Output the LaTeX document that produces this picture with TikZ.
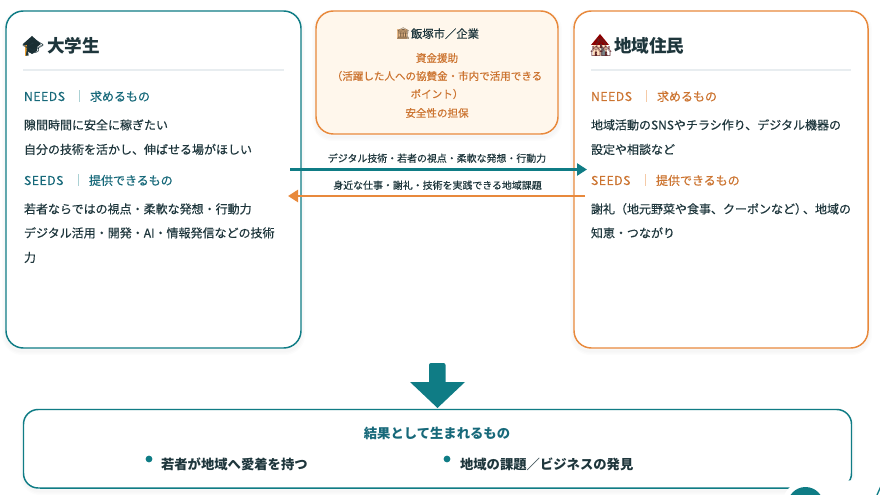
\documentclass[tikz,border=0pt]{standalone}
\usepackage{fontspec}
\setmainfont{Noto Sans CJK JP}
\newfontfamily\medfont[FakeBold=0.35]{Noto Sans CJK JP}
\newfontfamily\spacedfont[FakeBold=0.25,LetterSpace=4]{Noto Sans CJK JP}
\newfontfamily\emojifont{Noto Emoji}
\usetikzlibrary{arrows.meta}
\definecolor{teal1}{HTML}{0F7C85}
\definecolor{teal2}{HTML}{17697A}
\definecolor{orange1}{HTML}{E8893C}
\definecolor{orange2}{HTML}{CC7430}
\definecolor{ink}{HTML}{1E363C}
\definecolor{rule1}{HTML}{E8EDF0}
\definecolor{cream}{HTML}{FFF7EC}
\newcommand{\fs}[1]{\fontsize{#1}{#1}\selectfont}
\tikzset{
  x=0.75pt,y=-0.75pt,
  every node/.style={inner sep=0pt,outer sep=0pt},
  cardline/.style={line width=1.1pt},
  txt/.style={anchor=base west,text=ink,font=\medfont\fs{9}},
  ttl/.style={anchor=base west,text=ink,font=\fs{13.2}\bfseries},
  tealhead/.style={anchor=base west,text=teal2,font=\medfont\fs{9}},
  orangehead/.style={anchor=base west,text=orange2,font=\medfont\fs{9}},
  tealtag/.style={anchor=base west,text=teal2,font=\spacedfont\fs{9.2}},
  orangetag/.style={anchor=base west,text=orange2,font=\spacedfont\fs{9.2}},
  ctr/.style={anchor=base,text=orange2,font=\medfont\fs{7.9}},
  arrowlabel/.style={anchor=base,text=ink,font=\medfont\fs{7.45}},
  result/.style={anchor=base west,text=ink,font=\fs{10}\bfseries},
  emoji/.style={anchor=base west,font=\emojifont\fs{13}},
  flow/.style={line width=1.9pt,-{Triangle[length=7.5pt,width=9pt]}},
}
\begin{document}
\begin{tikzpicture}
\useasboundingbox (0,0) rectangle (880,495);
% shadows
\foreach \o in {1,2,3}{
  \draw[black,opacity=0.012,line width=\o*2pt,rounded corners=12pt] (6,14) rectangle (301,351);
  \draw[black,opacity=0.012,line width=\o*2pt,rounded corners=12pt] (574,14) rectangle (868,351);
  \draw[black,opacity=0.012,line width=\o*2pt,rounded corners=12pt] (316,14) rectangle (558,137);
  \draw[black,opacity=0.012,line width=\o*2pt,rounded corners=12pt] (24,412) rectangle (851,491);
}
% cards
\draw[teal1,cardline,fill=white,rounded corners=13pt] (6,11) rectangle (301,348);
\draw[orange1,cardline,fill=white,rounded corners=13pt] (574,11) rectangle (868,348);
\draw[orange1,cardline,fill=cream,rounded corners=13pt] (316,11) rectangle (558,134);
\draw[teal1,cardline,fill=white,rounded corners=11pt] (23.5,409.5) rectangle (851.5,488);
\draw[teal1,line width=0.6pt] (40,488) -- (800,488);
% left card
\fill[ink!85!black] (32,36) -- (41,44) -- (37,47) -- (37,51) -- (32,54) -- (27,51) -- (27,47) -- (23,44) -- cycle;
\draw[orange1!80!yellow,line width=1.2pt] (26,45) -- (26,56);
\node[emoji,text=ink] (hat) at (22,54) {🎓};
\node[ttl] (t1) at (47,53) {大学生};
\draw[rule1,line width=0.9pt] (23,70) -- (284,70);
\node[tealtag] (n1) at (24,101) {NEEDS};
\draw[teal1!35,line width=0.7pt] (79,90.5) -- (79,102.5);
\node[tealhead] (n1b) at (90,101) {求めるもの};
\node[txt] (a1) at (24,129.5) {隙間時間に安全に稼ぎたい};
\node[txt] (a2) at (24,154) {自分の技術を活かし、伸ばせる場がほしい};
\node[tealtag] (s1) at (24,185) {SEEDS};
\draw[teal1!35,line width=0.7pt] (78,174.5) -- (78,186.5);
\node[tealhead] (s1b) at (89,185) {提供できるもの};
\node[txt] (a3) at (24,213.5) {若者ならではの視点・柔軟な発想・行動力};
\node[txt] (a4) at (24,237.5) {デジタル活用・開発・AI・情報発信などの技術};
\node[txt] (a5) at (24,262) {力};
% right card
\fill[red!55!black] (600,34) -- (609,45) -- (591,45) -- cycle;
\fill[orange!25!white] (593,45) rectangle (607,56);
\fill[ink!60] (601,44) -- (608,56) -- (601,56) -- cycle;
\node[emoji,text=ink!70!red] (house) at (590,54) {🏘};
\node[ttl] (t2) at (614,53) {地域住民};
\draw[rule1,line width=0.9pt] (591,70) -- (851,70);
\node[orangetag] (n2) at (591,101) {NEEDS};
\draw[orange1!45,line width=0.7pt] (646,90.5) -- (646,102.5);
\node[orangehead] (n2b) at (657,101) {求めるもの};
\node[txt] (b1) at (591,129.5) {地域活動のSNSやチラシ作り、デジタル機器の};
\node[txt] (b2) at (591,154) {設定や相談など};
\node[orangetag] (s2) at (591,185) {SEEDS};
\draw[orange1!45,line width=0.7pt] (645,174.5) -- (645,186.5);
\node[orangehead] (s2b) at (656,185) {提供できるもの};
\node[txt] (b3) at (591,213.5) {謝礼（地元野菜や食事、クーポンなど）\kern-3pt 、地域の};
\node[txt] (b4) at (591,237.5) {知恵・つながり};
% centre card
\fill[orange!35!brown!55!white] (397,29) rectangle (407,39);
\node[emoji,text=ink!60!orange1,font=\emojifont\fs{8.5}] (bank) at (396,38) {🏛};
\node[anchor=base west,text=ink,font=\medfont\fs{8.5}] (c0) at (411,38) {飯塚市／企業};
\node[ctr] (c1) at (437,62) {資金援助};
\node[ctr] (c2) at (437,80) {（活躍した人への協賛金・市内で活用できる};
\node[ctr] (c3) at (437,98) {ポイント）};
\node[ctr] (c4) at (437,117) {安全性の担保};
% flows
\coordinate (fa) at (290,169.5);
\coordinate (fb) at (587,169.5);
\coordinate (ga) at (585,196);
\coordinate (gb) at (288,196);
\draw[flow,teal1] (fa) -- (fb);
\draw[flow,orange1] (ga) -- (gb);
\node[arrowlabel] (l1) at (437,162) {デジタル技術・若者の視点・柔軟な発想・行動力};
\node[arrowlabel] (l2) at (437.5,189) {身近な仕事・謝礼・技術を実践できる地域課題};
% big arrow
\fill[teal1,rounded corners=1.5pt] (429,384) -- (429,363) -- (445.5,363) -- (445.5,384) -- cycle;
\fill[teal1] (410,382) -- (465,382) -- (437.5,408) -- cycle;
% result
\node[anchor=base,text=teal2,font=\fs{10}\bfseries] (r0) at (437,438) {結果として生まれるもの};
\fill[teal1] (149,459) circle (3.4);
\node[result] (r1) at (161,469) {若者が地域へ愛着を持つ};
\fill[teal1] (447,459) circle (3.4);
\node[result] (r2) at (460,469) {地域の課題／ビジネスの発見};
% floating button
\fill[white] (800,495) .. controls (805,484) and (840,482) .. (853,480) -- (880,480) -- (880,495) -- cycle;
\fill[white] (806,505) circle (24);
\fill[teal1] (805.5,505) circle (18);
\draw[teal1,line width=1pt] (881,486) -- (877,495);
\end{tikzpicture}
\end{document}
